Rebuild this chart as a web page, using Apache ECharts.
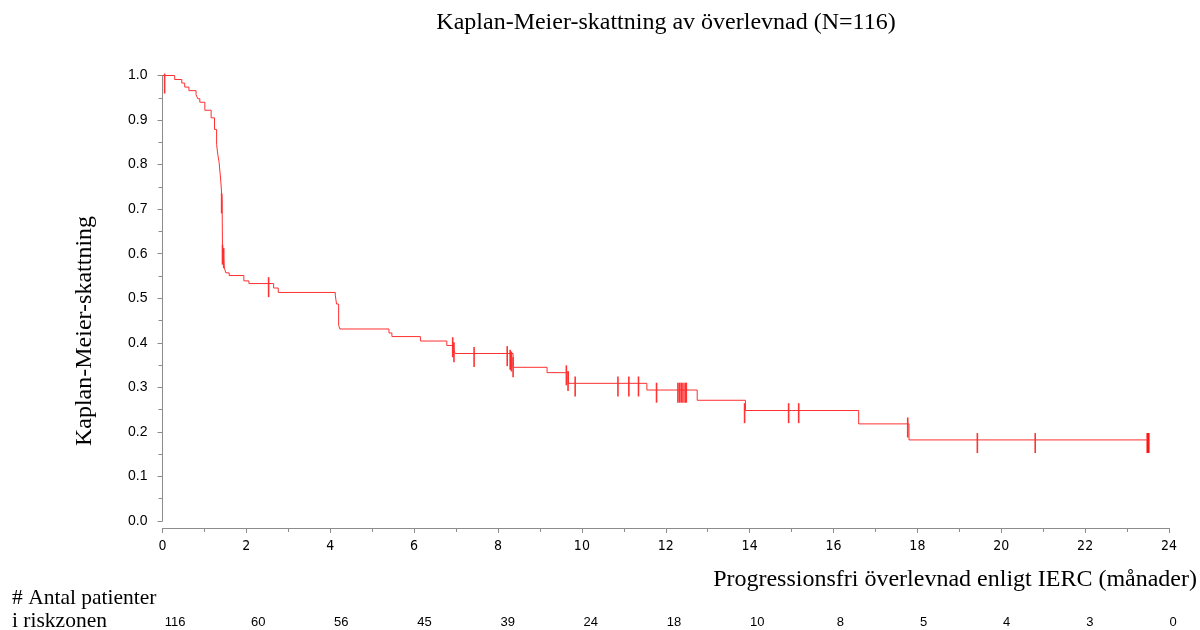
<!DOCTYPE html>
<html>
<head>
<meta charset="utf-8">
<script src="https://cdn.jsdelivr.net/npm/echarts@6/dist/echarts.min.js"></script>
<style>
  html, body { margin: 0; padding: 0; background: #fff; }
  #chart { width: 1200px; height: 630px; }
</style>
</head>
<body>
<div id="chart"></div>
<script>
// Kaplan-Meier step curve: event times (months) and survival estimate after each drop
const stepTimes = [0, 0.29, 0.46, 0.53, 0.63, 0.80, 0.84, 0.89, 1.01, 1.16, 1.24, 1.29, 1.32, 1.35, 1.39,
  1.42, 1.43, 1.47, 1.51, 1.59, 1.94, 2.06, 2.65, 2.76, 4.12, 4.15, 4.20, 4.23, 5.40, 5.47, 6.15, 6.78,
  6.94, 6.98, 8.36, 9.17, 9.68, 11.55, 12.75, 13.90, 16.60, 17.80, 23.50];
const stepSurv = [1.0, 0.991, 0.983, 0.974, 0.966, 0.957, 0.948, 0.940, 0.922, 0.905, 0.879, 0.845, 0.822, 0.805, 0.763,
  0.720, 0.620, 0.570, 0.557, 0.551, 0.539, 0.533, 0.523, 0.513, 0.507, 0.487, 0.439, 0.431, 0.422, 0.414, 0.404, 0.394,
  0.385, 0.376, 0.345, 0.333, 0.309, 0.294, 0.271, 0.248, 0.218, 0.182, 0.182];

// Censored observations (time, marker centre)
const censorTimes = [0.05, 1.41, 1.43, 1.46, 2.53, 6.92, 6.95, 7.43, 8.22, 8.29, 8.32, 8.36, 9.63, 9.67, 9.84,
  10.86, 11.12, 11.35, 11.78, 12.29, 12.33, 12.37, 12.41, 12.46, 12.49, 13.88, 14.93, 15.17, 17.77,
  19.43, 20.81, 23.48, 23.50, 23.52];
const censorSurv = [0.982, 0.713, 0.598, 0.590, 0.525, 0.390, 0.379, 0.368, 0.370, 0.362, 0.358, 0.345, 0.327, 0.314, 0.302,
  0.302, 0.302, 0.302, 0.288, 0.288, 0.288, 0.288, 0.288, 0.288, 0.288, 0.242, 0.242, 0.242, 0.210,
  0.175, 0.175, 0.175, 0.175, 0.175];

// Number at risk every 2 months
const riskTimes = [0, 2, 4, 6, 8, 10, 12, 14, 16, 18, 20, 22, 24];
const atRisk = [116, 60, 56, 45, 39, 24, 18, 10, 8, 5, 4, 3, 0];

const titleText = 'Kaplan-Meier-skattning av överlevnad (N=116)';
const yName = 'Kaplan-Meier-skattning';
const xName = 'Progressionsfri överlevnad enligt IERC (månader)';
const riskLabel = ['# Antal patienter', 'i riskzonen'];

const serif = '"Liberation Serif", "DejaVu Serif", serif';
const sans = '"Liberation Sans", Arial, sans-serif';
const narrow = '"Liberation Sans Narrow", "DejaVu Sans Condensed", "Liberation Sans", sans-serif';

const curve = stepTimes.map((t, i) => [t, stepSurv[i]]);
const censored = censorTimes.map((t, i) => [t, censorSurv[i]]);
const riskMap = {};
riskTimes.forEach((t, i) => { riskMap[t] = atRisk[i]; });

const axisGray = '#8c8c8c';

const chart = echarts.init(document.getElementById('chart'), null, { renderer: 'canvas' });
chart.setOption({
  animation: false,
  backgroundColor: '#ffffff',
  title: {
    text: titleText,
    left: 661,
    top: 6,
    textAlign: 'center',
    textStyle: { fontFamily: serif, fontSize: 24, fontWeight: 'normal', color: '#000' }
  },
  grid: [
    { left: 162.5, right: 31, top: 75.5, bottom: 109 },
    { left: 175, right: 27, top: 612, height: 1 }
  ],
  xAxis: [
    {
      type: 'value', gridIndex: 0, min: 0, max: 24, interval: 2,
      offset: 7,
      axisLine: { show: true, onZero: false, lineStyle: { color: axisGray, width: 1 } },
      axisTick: { show: true, length: 5, lineStyle: { color: axisGray } },
      minorTick: { show: true, splitNumber: 2, length: 4, lineStyle: { color: axisGray } },
      axisLabel: { margin: 11, fontFamily: narrow, fontSize: 14, color: '#000' },
      splitLine: { show: false }
    },
    {
      type: 'value', gridIndex: 1, min: 0, max: 24, interval: 2,
      axisLine: { show: false }, axisTick: { show: false }, splitLine: { show: false },
      axisLabel: {
        margin: 3, fontFamily: sans, fontSize: 13, color: '#000',
        formatter: v => (riskMap[v] !== undefined ? String(riskMap[v]) : '')
      }
    }
  ],
  yAxis: [
    {
      type: 'value', gridIndex: 0, min: 0, max: 1, interval: 0.1,
      offset: 6,
      axisLine: { show: true, lineStyle: { color: axisGray, width: 1 } },
      axisTick: { show: true, length: 5, lineStyle: { color: axisGray } },
      minorTick: { show: true, splitNumber: 2, length: 4, lineStyle: { color: axisGray } },
      axisLabel: { margin: 9, fontFamily: sans, fontSize: 14, color: '#000', formatter: v => v.toFixed(1) },
      splitLine: { show: false }
    },
    { type: 'value', gridIndex: 1, show: false }
  ],
  series: [
    {
      type: 'line', xAxisIndex: 0, yAxisIndex: 0,
      data: curve, step: 'end', showSymbol: false, symbol: 'none',
      lineStyle: { color: '#ff3030', width: 1 },
      silent: true
    },
    {
      type: 'scatter', xAxisIndex: 0, yAxisIndex: 0,
      data: censored, symbol: 'rect', symbolSize: [1.6, 20],
      itemStyle: { color: '#ff0000' },
      silent: true
    }
  ],
  graphic: [
    {
      type: 'text', x: 85, y: 331, rotation: Math.PI / 2,
      style: { text: yName, fontFamily: serif, fontSize: 24, fill: '#000', align: 'center', verticalAlign: 'middle' }
    },
    {
      type: 'text', x: 1197, y: 580,
      style: { text: xName, fontFamily: serif, fontSize: 24, fill: '#000', align: 'right', verticalAlign: 'middle' }
    },
    {
      type: 'text', x: 12, y: 598,
      style: { text: riskLabel[0], fontFamily: serif, fontSize: 21.5, fill: '#000', align: 'left', verticalAlign: 'middle' }
    },
    {
      type: 'text', x: 12, y: 621,
      style: { text: riskLabel[1], fontFamily: serif, fontSize: 21.5, fill: '#000', align: 'left', verticalAlign: 'middle' }
    }
  ]
});
</script>
</body>
</html>
